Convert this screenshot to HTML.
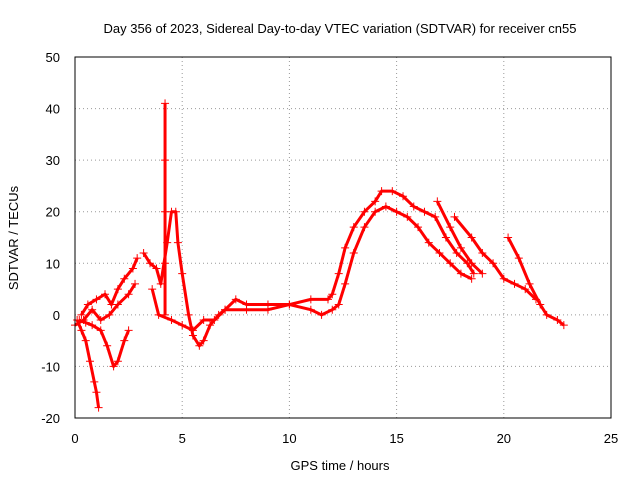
<!DOCTYPE html>
<html><head><meta charset="utf-8"><style>
body{margin:0;background:#fff}
svg text{font-family:"Liberation Sans",sans-serif;font-size:13px;fill:#000}
</style></head><body>
<svg id="chart" width="640" height="480">
<text x="340" y="33" text-anchor="middle">Day 356 of 2023, Sidereal Day-to-day VTEC variation (SDTVAR) for receiver cn55</text>
<g id="grid"></g>
<g id="axes"></g>
<g id="marks"></g>
<rect x="75" y="57" width="536" height="361" fill="none" stroke="#000"/>
<text x="340" y="470" text-anchor="middle">GPS time / hours</text>
<text x="18" y="238" text-anchor="middle" transform="rotate(-90 18 238)">SDTVAR / TECUs</text>
</svg>
<script>
const xTicks=[0,5,10,15,20,25];
const yTicks=[-20,-10,0,10,20,30,40,50];
const trace1=[[0.3,0],[0.6,2],[1,3],[1.4,4],[1.7,2],[2,5],[2.3,7],[2.7,9],[2.9,11]];
const trace2=[[0.1,-1],[0.3,-3],[0.5,-5],[0.7,-9],[0.9,-13],[1.0,-15],[1.1,-18]];
const trace3=[[0.2,-1],[0.5,-1.5],[0.8,-2],[1.2,-3],[1.5,-6],[1.8,-10],[2.0,-9],[2.3,-5],[2.5,-3]];
const trace4=[[0,-2],[0.4,-1],[0.8,1],[1.2,-1],[1.6,0],[2,2],[2.5,4],[2.8,6]];
const trace5=[[3.2,12],[3.5,10],[3.8,9],[4.0,6],[4.3,14],[4.5,20],[4.7,20],[4.8,14],[5.0,8],[5.3,0],[5.5,-4],[5.8,-6],[6.0,-5],[6.3,-2],[6.7,0],[7,1],[7.5,3],[8,2],[9,2],[10,2],[11,3],[11.8,3],[12,4],[12.3,8],[12.6,13],[13,17],[13.5,20],[14,22],[14.3,24],[14.8,24],[15.3,23],[15.8,21],[16.3,20],[16.8,19],[17.3,15],[17.8,12],[18.3,10],[18.6,8]];
const trace6=[[4.2,0],[4.2,10],[4.2,20],[4.2,30],[4.2,41]];
const trace7=[[3.6,5],[3.9,0],[4.5,-1],[5,-2],[5.5,-3],[6,-1],[6.5,-1],[7,1],[8,1],[9,1],[10,2],[11,1],[11.5,0],[12,1],[12.3,2],[12.6,6],[13,12],[13.5,17],[14,20],[14.5,21],[15,20],[15.5,19],[16,17],[16.5,14],[17,12],[17.5,10],[18,8],[18.5,7]];
const trace8=[[16.9,22],[17.5,17],[18,13],[18.5,10],[19,8]];
const trace9=[[17.7,19],[18.5,15],[19,12],[19.5,10],[20,7],[20.5,6],[21,5],[21.5,3]];
const trace10=[[20.2,15],[20.7,11],[21.2,6],[21.7,2],[22,0],[22.5,-1],[22.8,-2]];
const traces=[trace1,trace2,trace3,trace4,trace5,trace6,trace7,trace8,trace9,trace10];
const NS="http://www.w3.org/2000/svg";
const X=v=>75+v*536/25, Y=v=>418-(v+20)*361/70;
const grid=document.getElementById('grid'),axes=document.getElementById('axes'),marks=document.getElementById('marks');
function mk(tag,attrs,parent){const e=document.createElementNS(NS,tag);for(const k in attrs)e.setAttribute(k,attrs[k]);parent.appendChild(e);return e;}
xTicks.forEach(t=>{
 if(t>0&&t<25){const g=mk('line',{x1:X(t),x2:X(t),y1:57,y2:418,stroke:'#999','stroke-dasharray':'1,3'},grid);
 
 }
 const l=mk('text',{x:X(t),y:443,'text-anchor':'middle'},axes);l.textContent=t;
 
 
});
yTicks.forEach(t=>{
 if(t>-20&&t<50){const g=mk('line',{x1:75,x2:611,y1:Y(t),y2:Y(t),stroke:'#999','stroke-dasharray':'1,3'},grid);
 
 }
 const l=mk('text',{x:60,y:Y(t)+5,'text-anchor':'end'},axes);l.textContent=t;
 
 
});
traces.forEach(tr=>{
 const p=mk('polyline',{points:tr.map(d=>X(d[0])+','+Y(d[1])).join(' '),fill:'none',stroke:'#f00','stroke-width':3,'stroke-linejoin':'round'},marks);
 
 
 tr.forEach(d=>{
  const m=mk('path',{d:`M${X(d[0])-4},${Y(d[1])}h8M${X(d[0])},${Y(d[1])-4}v8`,stroke:'#f00','stroke-width':1},marks);
  
  
 });
});
</script>
</body></html>
